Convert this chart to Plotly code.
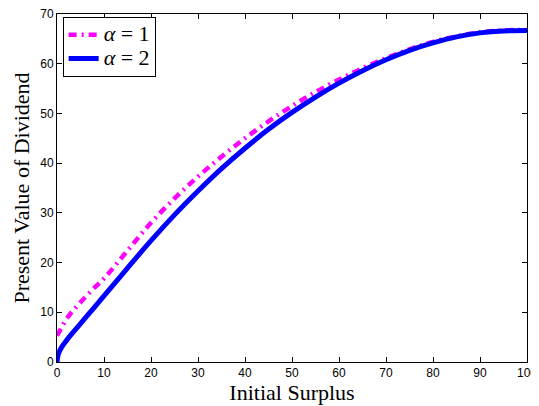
import plotly.graph_objects as go

x_vals = [0, 0.25, 0.5, 1, 2, 3, 5, 7.5, 10, 15, 20, 25, 30, 35, 40, 45, 50,
          55, 60, 65, 70, 75, 80, 85, 90, 95, 100]
alpha2 = [0, 1.5, 2.1, 3.0, 4.3, 5.5, 7.7, 10.5, 13.3, 18.9, 24.4, 29.6, 34.4,
          38.9, 43.0, 46.8, 50.2, 53.3, 56.1, 58.6, 60.8, 62.7, 64.2, 65.4,
          66.2, 66.6, 66.7]
alpha1 = [5.3, 5.7, 6.1, 7.0, 8.6, 9.9, 12.0, 14.5, 16.8, 22.4, 28.0, 32.9,
          37.3, 41.3, 45.0, 48.4, 51.5, 54.3, 56.8, 59.1, 61.1, 62.9, 64.4,
          65.5, 66.3, 66.7, 66.8]
series_names = ["<span style='font-size:22px'><i>α</i> = 1</span>",
                "<span style='font-size:22px'><i>α</i> = 2</span>"]
x_ticks = [0, 10, 20, 30, 40, 50, 60, 70, 80, 90, 100]
y_ticks = [0, 10, 20, 30, 40, 50, 60, 70]

fig = go.Figure()
fig.add_trace(go.Scatter(x=x_vals, y=alpha1, mode="lines", name=series_names[0],
                         line=dict(color="#ff00ff", width=4.5, dash="8px,5px,2px,5px",
                                   shape="spline")))
fig.add_trace(go.Scatter(x=x_vals, y=alpha2, mode="lines", name=series_names[1],
                         line=dict(color="#0000ff", width=5, shape="spline")))

axis_common = dict(showgrid=False, zeroline=False, showline=True, linecolor="black",
                   linewidth=1, mirror="ticks", ticks="inside", ticklen=5,
                   tickcolor="black", automargin=False, ticklabeloverflow="allow",
                   tickfont=dict(family="Liberation Sans", size=12, color="black"))
fig.update_xaxes(range=[0, 100], tickvals=x_ticks, **axis_common,
                 title=dict(text="Initial Surplus", standoff=2,
                            font=dict(family="Liberation Serif", size=22, color="black")))
fig.update_yaxes(range=[0, 70], tickvals=y_ticks, **axis_common,
                 title=dict(text="Present Value of Dividend", standoff=4,
                            font=dict(family="Liberation Serif", size=22, color="black")))

# page body has an 8px default margin, so the figure is shifted by 8px
fig.update_layout(
    width=531, height=398,
    margin=dict(l=49, r=12, t=6, b=44),
    paper_bgcolor="white", plot_bgcolor="white",
    showlegend=True,
    legend=dict(x=0.012, y=0.992, xanchor="left", yanchor="top",
                bordercolor="black", borderwidth=1, bgcolor="white",
                font=dict(family="Liberation Serif", size=16, color="black"),
                tracegroupgap=0, itemwidth=30),
)

fig.write_html("out.html")
